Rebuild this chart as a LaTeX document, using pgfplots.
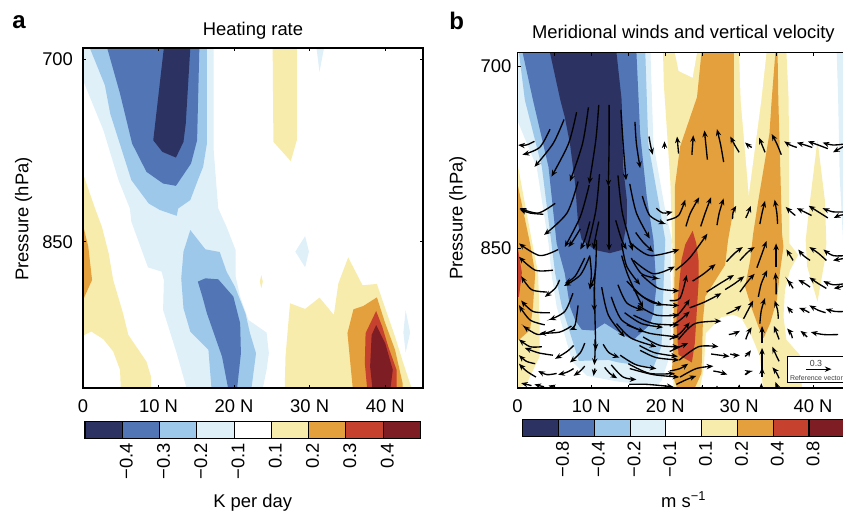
\documentclass[border=0pt]{standalone}
\usepackage{fontspec}
\setmainfont{Liberation Sans}
\usepackage{pgfplots}
\pgfplotsset{compat=1.18}
\usetikzlibrary{arrows.meta}
\definecolor{c1}{HTML}{2C3362}
\definecolor{c2}{HTML}{5275B5}
\definecolor{c3}{HTML}{9EC8EA}
\definecolor{c4}{HTML}{DFF0F9}
\definecolor{c6}{HTML}{F8ECAC}
\definecolor{c7}{HTML}{E4A03C}
\definecolor{c8}{HTML}{C6422E}
\definecolor{c9}{HTML}{7E1E24}
\newcommand{\reg}[2]{\addplot[fill=#1,draw=none,forget plot] coordinates {#2};}
\newcommand{\cv}[6]{\addplot[black,line width=1pt,smooth,forget plot,-{Stealth[length=5pt,width=4pt]}] coordinates {(#1,#2)(#3,#4)(#5,#6)};}
\newcommand{\fs}{\fontsize{13.8}{15}\selectfont}
\pgfplotsset{
  every axis title shift=0pt,
  field/.style={
    scale only axis, axis on top, anchor=south west,
    y dir=reverse, xmin=0, xmax=45,
    tick align=inside, tick pos=both, xticklabel pos=lower, yticklabel pos=left,
    xtick={0,10,20,30,40}, xticklabels={0,10 N,20 N,30 N,40 N},
    ytick={700,850}, yticklabels={700,850},
    major tick length=2.6pt, minor tick length=2.6pt,
    tick style={black,line width=0.7pt},
    axis line style={black,line width=0.9pt},
    tick label style={font=\fs},
    label style={font=\fs},
    title style={font=\fs},
    xticklabel style={yshift=-5pt},
  },
  cbar/.style={
    scale only axis, axis on top, anchor=south west,
    xmin=0, xmax=9, ymin=0, ymax=1, ytick=\empty,
    xtick={1,...,8}, major tick length=0pt,
    xmajorgrids, grid style={black,line width=0.8pt},
    axis line style={black,line width=0.9pt},
    xticklabel style={font=\fs,rotate=90,anchor=east,yshift=-3pt},
    label style={font=\fs},
  },
}
\begin{document}
\begin{tikzpicture}
\useasboundingbox (0,0) rectangle (632.25pt,384pt);
\clip (0,0) rectangle (632.25pt,384pt);
\node[font=\fontsize{18}{20}\selectfont\bfseries] at (14.25pt,367.5pt) {a};
\node[font=\fontsize{18}{20}\selectfont\bfseries] at (342.5pt,368.5pt) {b};
% ------------------------- panel a
\begin{axis}[field, at={(62.25pt,93pt)}, width=255pt, height=255pt,
  ymin=691, ymax=970,
  yticklabel style={xshift=-4pt},
  title={Heating rate}, title style={at={(axis description cs:0.5,1.05)},anchor=center},
  ylabel={Pressure (hPa)}, ylabel style={at={(axis description cs:-0.175,0.497)},anchor=center,rotate=0},
]
\reg{c4}{(0,691)(17.3,691)(17.3,775)(17.6,799.4)(17.9,822.6)(19,837.7)(20.2,856.8)(20.2,878.6)(20.8,895)(21.9,914.2)(24.3,924.5)(24.6,941.5)(24.3,955.1)(23.8,970)(13.7,970)(12.4,941.5)(10.6,906)(10.7,881.4)(10.4,874.5)(8.6,871)(6.4,833.6)(6.2,822.6)(4.7,799.4)(2.7,758.5)(0,717.5)}
\reg{c4}{(29.4,845.3)(29.9,858.1)(29.4,871)(28.1,858.1)}
\reg{c4}{(30.9,691)(31.9,691)(31.3,710.6)}
\reg{c4}{(42.7,906)(43.3,924.5)(42.7,941)(42.4,924.5)}
\reg{c3}{(0.9,691)(2.9,721.6)(3.6,744.8)(6.4,799.4)(8.7,818.6)(10.2,824)(12.4,828.7)(12.6,822.7)(14.2,815.8)(15.2,799.4)(15.9,788.5)(16.4,769.4)(16.4,691)}
\reg{c2}{(3.2,691)(4.9,728.4)(6.5,769.4)(8.4,792.6)(10.6,802.2)(12.3,804.1)(14.3,785.8)(15.1,766.7)(15.4,691)}
\reg{c1}{(10.7,691)(9.3,766.7)(10.5,776.2)(12.3,780.9)(13.3,768)(13.6,753)(14.2,691)}
\reg{c3}{(14.2,840.4)(16.2,856.2)(18.1,858.4)(19,874.5)(20.1,886.8)(21.5,908.7)(22.1,925)(22.9,941.5)(22.3,970)(17,970)(16.6,938.7)(14.2,923.7)(13.3,904.6)(13,880)(13.3,858.1)}
\reg{c2}{(15.2,882.7)(16.2,880)(17.9,880.8)(19.9,895)(20.8,916.9)(20.9,941.5)(20.4,970)(19.2,970)(18.4,944.2)(16.4,908.7)(15.8,895)}
\reg{c6}{(0,794)(1.6,822.7)(2.5,837.7)(3.4,859.5)(4,881.4)(5.3,908.7)(6,926.4)(8.4,948.3)(9,960.6)(9,970)(5,970)(4.9,955.1)(4,940.1)(2.7,930)(1.1,923.7)(0,927)}
\reg{c7}{(0,836.3)(0.7,854)(1.2,881.4)(0,897.8)}
\reg{c6}{(25.1,691)(28.3,691)(28.3,766.7)(27.5,783.9)(25.2,768)}
\reg{c6}{(23.6,877.3)(23.8,882.7)(23.6,888.2)(23.4,882.7)}
\reg{c6}{(27.4,900.5)(29.4,905.1)(31.3,895.8)(33.2,910)(33.8,884.1)(35.1,862.8)(37,885.7)(38.9,884.6)(40,904.6)(41.3,927.8)(42.4,949.7)(43.3,966.6)(43.5,970)(26.7,970)(26.8,944.2)}
\reg{c7}{(35.8,905.4)(37.1,902.7)(38.9,895.6)(40,916.9)(41.3,938.7)(42.3,966)(42.3,970)(35.7,970)(35,925)}
\reg{c8}{(38.8,906.8)(39.6,919.6)(40.4,936)(41.5,955.1)(41.5,970)(37.6,970)(37.3,949.7)(37.4,925)}
\reg{c9}{(38.8,918.3)(40,933.3)(41,955.1)(40.7,970)(38.3,970)(38,952.4)(38.2,926.5)}
\end{axis}
% ------------------------- panel b
\begin{axis}[field, at={(388.1pt,93pt)}, width=249.4pt, height=251.5pt,
  ymin=689, ymax=965,
  minor xtick={5,15,25,35,45},
  yticklabel style={xshift=-1pt},
  title={Meridional winds and vertical velocity}, title style={at={(axis description cs:0.499,1.056)},anchor=center},
  ylabel={Pressure (hPa)}, ylabel style={at={(axis description cs:-0.179,0.507)},anchor=center,rotate=0},
]
\reg{c4}{(0,689)(18,689)(18.4,764)(20,819)(20.9,843)(20.7,871)(20.9,898)(20.6,939)(19.5,959)(18.9,963)(13.9,960)(9.4,955)(7.4,943)(5.3,898)(4.6,871)(4.2,846)(2.6,783)(0,745)}
\reg{c3}{(0.2,689)(1,728)(3.3,783)(4.6,846)(5.1,870.6)(6,898)(8.3,942.7)(12.3,941.9)(13.7,944)(18.4,948)(19.5,930.4)(19.7,892)(20,843)(19.3,818.6)(17.7,763.8)(17.3,689)}
\reg{c2}{(0.7,689)(2.1,728)(4.2,783)(5.3,846)(6.4,870.6)(7.1,898)(7.8,909)(8.7,917)(10.3,917.7)(11.8,911.7)(14.3,921.3)(15.7,925.4)(17.9,913)(18.4,903.5)(18.8,881.6)(18.4,843)(17.5,807.6)(16.6,755.6)(16.1,689)}
\reg{c1}{(4.4,689)(5.8,728)(6.4,741.9)(7.1,763.8)(7.8,796.7)(8.2,829.6)(8.7,843)(10.5,851.4)(12.5,854)(14.1,851.4)(14.8,829.6)(14.8,810)(14.3,783)(14.1,728)(13.4,689)}
\reg{c6}{(0,780)(1,813)(2.1,848.8)(2.8,870.6)(3,911.7)(3,939)(1.2,962)(0,965)}
\reg{c7}{(0,796.7)(1.7,846)(2.4,870.6)(2.1,898)(1.7,917.2)(0.2,925.4)(0,925)}
\reg{c8}{(0,848)(0.6,870)(0.2,890)(0,890)}
\reg{c6}{(19.7,689)(36.4,689)(36.7,728)(36.8,846)(38,855.5)(36.9,867.9)(36.2,884.3)(36,906.2)(36.4,925.4)(38.2,937.7)(38.5,965)(21.1,965)(21,892)(21,856.4)(20.7,796.7)(19.8,714.5)}
\reg{white}{(21.3,689)(21.8,704)(23.7,709.6)(24.3,689)}
\reg{white}{(30,689)(30.2,728)(31.3,806)(33,728)(33.7,689)}
\reg{white}{(25.5,919.9)(27.6,906.8)(29.2,904.8)(30.3,907.6)(31.7,922.7)(32.8,939)(33.2,963.8)(33.2,965)(24.7,965)(25.2,950)}
\reg{c7}{(24.9,689)(24.3,725.5)(22,766.5)(21.3,799.4)(21.3,856.4)(21.1,925.4)(20.9,952.8)(21.6,965)(24,965)(24.9,952.8)(25.1,909)(25.4,889.8)(28.1,863.7)(28.5,843.2)(29.3,815.9)(29.3,689)}
\reg{c8}{(23.7,835.6)(22.7,847)(22.2,859.6)(21.8,884.3)(21.5,911.7)(21.8,937.7)(23.6,944)(24,928)(24.5,878.8)(24.5,859.6)(24.2,846)}
\reg{c7}{(34.9,689)(34.4,728)(34.1,755.6)(33.5,777.5)(32.6,810.4)(31.9,837.8)(31.5,859.6)(30.8,881.6)(31.7,899.4)(32.6,914.4)(33.3,924)(34.2,911.7)(35.1,892.5)(35.5,870.6)(36,848.7)(35.8,837.8)(35.5,769.3)(35.3,728)(35.2,689)}
\reg{c6}{(40.6,761)(41.6,810.4)(41.8,846)(41.6,859.6)(40.6,893.9)(39.2,865)(39,843.2)(39.6,810.4)}
\reg{c4}{(43.2,689)(43.4,728)(43.6,790)(44.2,860)(45,890)(45,689)}
% row near 765 hPa
\cv{2.3}{762}{1.2}{765}{0.1}{765}
\cv{4.4}{752}{3.0}{767}{0.7}{773}
\cv{6.3}{744}{4.8}{764}{2.3}{783}
\cv{8.0}{738}{6.9}{764}{4.6}{791}
\cv{9.6}{734}{8.8}{764}{7.1}{795}
\cv{11.0}{732}{10.6}{761}{9.7}{797}
\cv{12.4}{732}{12.4}{764}{12.3}{799}
\cv{14.0}{736}{14.3}{764}{14.7}{794}
\cv{15.9}{746}{16.1}{764}{16.6}{784}
\cv{17.8}{758}{18.0}{765}{18.3}{773}
\cv{19.9}{768}{19.9}{765}{19.9}{762}
\cv{21.8}{772}{21.7}{765}{21.6}{758}
\cv{23.6}{773}{23.7}{765}{23.8}{757}
\cv{25.7}{777}{25.5}{765}{25.3}{753}
\cv{27.9}{779}{27.5}{765}{27}{752}
\cv{30}{771}{29.4}{765}{28.8}{758}
\cv{31.7}{767}{31.2}{765}{30.8}{763}
\cv{33.5}{771}{33.1}{765}{32.7}{759}
\cv{35.7}{773}{35.1}{764}{34.4}{756}
\cv{37.8}{767}{36.9}{765}{36.1}{762}
\cv{39.9}{767}{38.9}{765}{37.8}{763}
\cv{42}{768}{40.7}{765}{39.3}{762}
\cv{44.5}{764}{42.7}{765}{41.3}{763}
\cv{44.5}{765}{43.6}{768}{42.7}{771}
% row near 820 hPa
\cv{5.1}{813}{2.8}{821}{0.3}{817}
\cv{3.5}{822}{1.7}{821}{0.3}{818}
\cv{8.2}{795}{6.7}{821}{3.6}{839}
\cv{9.7}{798}{8.5}{824}{6.4}{849}
\cv{11.1}{789}{10.6}{819}{9.4}{851}
\cv{12.4}{799}{12.4}{827}{12.4}{852}
\cv{13.6}{790}{14.2}{821}{15.6}{852}
\cv{15.2}{797}{16.1}{821}{17.9}{842}
\cv{16.9}{807}{17.9}{823}{20}{830}
\cv{18.8}{817}{19.7}{821}{21}{820}
\cv{20.2}{827}{21.8}{823}{22.7}{810}
\cv{22.8}{832}{23.4}{821}{24.6}{808}
\cv{24.8}{832}{25.4}{821}{26.2}{808}
\cv{27}{831}{27.3}{821}{27.9}{809}
\cv{29.1}{826}{29.2}{820}{29.6}{815}
\cv{30.9}{825}{31.2}{821}{31.6}{815}
\cv{32.8}{830}{33.1}{821}{33.5}{811}
\cv{35.2}{830}{35.1}{821}{34.8}{810}
\cv{37.6}{823}{37}{820}{36.3}{816}
\cv{39.8}{823}{38.8}{820}{37.8}{817}
\cv{42}{825}{40.7}{820}{39.4}{815}
\cv{44.5}{820}{42.7}{820}{41.3}{817}
\cv{44.5}{822}{43.6}{823}{42.8}{825}
\cv{16}{837}{17}{845}{18.4}{853}
\cv{13.3}{827}{14.1}{843}{14.8}{851}
\cv{9.8}{828}{9.1}{843}{8.5}{851}
\cv{11}{828}{10.5}{843}{10.3}{851}
\cv{8.5}{834}{7.6}{843}{6.9}{849}
% lower left
\cv{5.5}{851}{3.0}{856}{0.2}{846}
\cv{4.8}{868}{2.4}{868}{0.2}{857}
\cv{4}{886}{1.9}{884}{0.5}{873}
\cv{5.7}{876}{5.1}{883}{3.7}{890}
\cv{9.8}{856}{8.5}{872}{6.3}{881}
\cv{9.1}{858}{7.8}{873}{6.4}{879}
\cv{7.5}{887}{6.4}{902}{4.3}{909}
\cv{4.4}{903}{2.1}{902}{0.5}{893}
\cv{3.7}{913}{1.7}{909}{0.2}{897}
\cv{5.1}{917}{2.8}{921}{0.8}{914}
\cv{7.3}{914}{5.7}{919}{3}{920}
\cv{3.3}{931}{1.7}{931}{0.2}{925}
\cv{4.8}{938}{2.8}{936}{1}{932}
\cv{2.4}{945}{1.2}{943}{0.2}{938}
\cv{2.5}{956}{1.2}{951}{0.2}{945}
\cv{5.3}{953}{4}{954}{2.8}{951}
\cv{7.6}{949}{6.7}{952}{5.5}{954}
\cv{7.6}{930}{6.7}{935}{5.1}{941}
\cv{9.1}{928}{8.5}{936}{7.1}{944}
\cv{9.1}{947}{8.5}{951}{7.6}{955}
\cv{8.2}{897}{7.8}{913}{7.1}{917}
% centre
\cv{10.7}{843}{10.5}{871}{9.7}{883}
\cv{9.8}{857}{10}{871}{9.8}{884}
\cv{10.6}{862}{10.4}{884}{10.4}{902}
\cv{10.4}{882}{10.5}{909}{10.6}{934}
\cv{10.5}{925}{10.5}{936}{10.4}{946}
\cv{10.5}{949}{10.4}{951}{10.3}{955}
% lower right of centre
\cv{14.1}{846}{14.8}{865}{16.6}{880}
\cv{15.4}{858}{16.8}{871}{19.1}{875}
\cv{14.1}{856}{15}{873}{17}{899}
\cv{13.6}{880}{14.8}{895}{17}{901}
\cv{14.8}{877}{17}{890}{19.7}{897}
\cv{11.4}{882}{12.3}{905}{14.5}{923}
\cv{12.7}{890}{14.1}{909}{17.2}{919}
\cv{14.5}{903}{16.8}{912}{19.7}{915}
\cv{13.4}{912}{15.4}{924}{18.8}{931}
\cv{16.5}{930}{18.6}{936}{21.7}{939}
\cv{11.8}{948}{12.5}{953}{13.5}{957}
\cv{12.7}{946}{14.3}{956}{16.1}{958}
\cv{15}{945}{17.9}{953}{21.3}{953}
\cv{11.6}{929}{12.4}{936}{13.8}{940}
\cv{13.9}{938}{16.1}{946}{18.8}{949}
\cv{15.2}{845}{17.9}{856}{21.9}{851}
\cv{15.7}{860}{18.4}{871}{21.3}{865}
\cv{16.8}{872}{19.1}{883}{21.9}{885}
\cv{15.7}{884}{18.4}{895}{21.9}{897}
\cv{16.3}{897}{18.8}{905}{21.9}{905}
\cv{15.7}{905}{18.4}{912}{21.9}{913}
\cv{14.8}{913}{17.9}{920}{21.9}{923}
\cv{17}{923}{19.3}{930}{21.9}{931}
\cv{16.6}{934}{18.8}{940}{21.9}{942}
\cv{15.2}{949}{18.4}{954}{21.9}{956}
\cv{15.1}{962}{17.5}{962}{21.1}{964}
% right part, lower rows
\cv{21.4}{868}{23.3}{858}{25.7}{838}
\cv{20.6}{893}{22}{891}{22.9}{872}
\cv{20.6}{905}{21.8}{904}{23.3}{892}
\cv{20.6}{914}{21.8}{910}{23.3}{902}
\cv{20.6}{925}{22}{920}{23.3}{911}
\cv{20.6}{935}{22}{931}{23.1}{928}
\cv{20.6}{951}{22}{949}{23.1}{945}
\cv{21.5}{962}{22.9}{958}{24.2}{955}
\cv{23.7}{877}{25.2}{871}{26.8}{863}
\cv{25.6}{886}{27.4}{879}{29.3}{872}
\cv{28.3}{861}{29.4}{854}{30.5}{849}
\cv{28.1}{884}{29.4}{879}{30.7}{873}
\cv{30.1}{860}{31.2}{853}{32.1}{849}
\cv{23.3}{899}{25.4}{894}{27.6}{887}
\cv{21.8}{925}{24}{912}{27.6}{910}
\cv{28.3}{904}{29.4}{901}{30.3}{897}
\cv{28.6}{921}{29.4}{920}{30.1}{918}
\cv{30.6}{908}{31.2}{901}{31.9}{893}
\cv{30.1}{886}{31.2}{877}{32.1}{871}
\cv{32.4}{866}{33}{856}{33.7}{844}
\cv{32.6}{890}{33}{879}{33.8}{868}
\cv{32.8}{912}{33}{901}{33.5}{891}
\cv{35}{865}{35}{854}{35}{846}
\cv{35}{888}{35}{879}{34.9}{870}
\cv{35.3}{908}{35.2}{901}{34.8}{893}
\cv{30.9}{925}{31.2}{920}{31.7}{915}
\cv{33.1}{928}{33.1}{921}{33.1}{914}
\cv{35.4}{925}{35.1}{920}{34.7}{914}
\cv{37.2}{924}{37}{920}{36.5}{916}
\cv{39.2}{923}{38.7}{920}{38.3}{918}
\cv{43.4}{921}{41.4}{921}{39.7}{919}
\cv{37.3}{860}{36.9}{856}{36.4}{851}
\cv{39.6}{860}{38.7}{856}{38}{851}
\cv{41.8}{860}{40.7}{854}{39.5}{849}
\cv{44.5}{856}{42.7}{856}{41.4}{851}
\cv{44.5}{858}{43.6}{859}{42.7}{860}
\cv{37.3}{883}{36.9}{879}{36.5}{876}
\cv{39.6}{882}{38.9}{879}{38}{876}
\cv{41.8}{883}{40.7}{879}{39.5}{874}
\cv{44.5}{879}{42.7}{880}{41.4}{877}
\cv{44.5}{880}{43.6}{882}{42.8}{883}
\cv{37.2}{903}{36.9}{901}{36.5}{898}
\cv{39.5}{903}{38.9}{901}{38.1}{899}
\cv{41.7}{903}{40.7}{901}{39.5}{897}
\cv{44.5}{902}{43}{902}{41.7}{900}
\cv{26.2}{937}{27.4}{938}{28.7}{939}
\cv{28.8}{937}{29.4}{938}{30.1}{938}
\cv{26.5}{951}{27.4}{952}{28.4}{954}
\cv{30.8}{954}{31.2}{952}{31.7}{951}
\cv{30.8}{939}{31.2}{937}{31.6}{934}
\cv{33.1}{949}{33.1}{940}{33.1}{932}
\cv{33.1}{956}{33.1}{951}{33.1}{948}
\cv{35.4}{943}{35}{938}{34.5}{931}
\cv{35.4}{957}{35}{952}{34.5}{948}
\cv{21.9}{942}{24.5}{931}{27.2}{931}
\cv{22}{956}{24.2}{949}{26.5}{947}
% bottom row
\cv{1.9}{963}{1.2}{962}{0.5}{961}
\cv{3.6}{964}{2.9}{963}{2.3}{962}
\cv{5.3}{965}{4.8}{964}{4.2}{963}
\cv{25}{965}{25}{964}{25}{963}
\cv{27}{965}{27}{964}{27}{963}
\cv{30}{965}{30}{964}{30}{962}
\cv{33}{965}{33}{963}{33}{961}
\cv{35.3}{965}{35.1}{963}{34.9}{960}
% reference vector box
\addplot[fill=white,draw=black,line width=0.7pt,forget plot] coordinates {(36.56,939)(46,939)(46,960.5)(36.56,960.5)} --cycle;
\addplot[black,line width=1pt,forget plot,-{Stealth[length=5pt,width=4pt]}] coordinates {(39.04,949.5)(42.5,949.5)};
\node[font=\fontsize{6.6}{7}\selectfont,text=black!75] at (axis cs:40.4,944.6) {0.3};
\node[font=\fontsize{5.2}{6}\selectfont,text=black!75] at (axis cs:40.46,957) {Reference vector};
\end{axis}
% ------------------------- colour bars
\begin{axis}[cbar, at={(63.75pt,55pt)}, width=251.6pt, height=12.75pt,
  xticklabels={−0.4,−0.3,−0.2,−0.1,0.1,0.2,0.3,0.4},
  xlabel={K per day}, xlabel style={at={(axis description cs:0.5,-4.06)},anchor=base},
]
\reg{c1}{(0,0)(1,0)(1,1)(0,1)}
\reg{c2}{(1,0)(2,0)(2,1)(1,1)}
\reg{c3}{(2,0)(3,0)(3,1)(2,1)}
\reg{c4}{(3,0)(4,0)(4,1)(3,1)}
\reg{white}{(4,0)(5,0)(5,1)(4,1)}
\reg{c6}{(5,0)(6,0)(6,1)(5,1)}
\reg{c7}{(6,0)(7,0)(7,1)(6,1)}
\reg{c8}{(7,0)(8,0)(8,1)(7,1)}
\reg{c9}{(8,0)(9,0)(9,1)(8,1)}
\end{axis}
\begin{axis}[cbar, at={(392pt,56.5pt)}, width=241.6pt, height=12.75pt,
  xticklabels={−0.8,−0.4,−0.2,−0.1,0.1,0.2,0.4,0.8},
  xlabel={m s\textsuperscript{−1}}, xlabel style={at={(axis description cs:0.5,-4.18)},anchor=base},
]
\reg{c1}{(0,0)(1,0)(1,1)(0,1)}
\reg{c2}{(1,0)(2,0)(2,1)(1,1)}
\reg{c3}{(2,0)(3,0)(3,1)(2,1)}
\reg{c4}{(3,0)(4,0)(4,1)(3,1)}
\reg{white}{(4,0)(5,0)(5,1)(4,1)}
\reg{c6}{(5,0)(6,0)(6,1)(5,1)}
\reg{c7}{(6,0)(7,0)(7,1)(6,1)}
\reg{c8}{(7,0)(8,0)(8,1)(7,1)}
\reg{c9}{(8,0)(9,0)(9,1)(8,1)}
\end{axis}
\end{tikzpicture}
\end{document}
